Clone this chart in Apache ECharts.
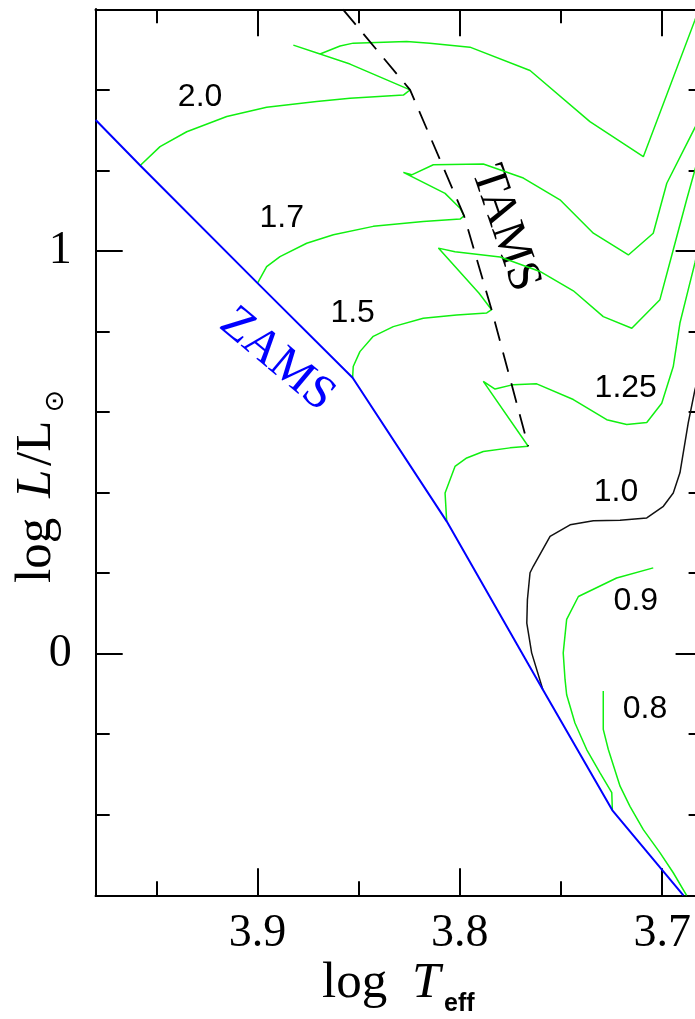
<!DOCTYPE html>
<html>
<head>
<meta charset="utf-8">
<script src="https://cdn.jsdelivr.net/npm/echarts@6/dist/echarts.min.js"></script>
<style>
  html, body { margin: 0; padding: 0; background: #fff; }
  #chart { width: 695px; height: 1019px; }
</style>
</head>
<body>
<div id="chart"></div>
<script>
// Zero-age main sequence (log Teff, log L/Lsun)
const zams = [[3.980, 1.325], [3.958, 1.212], [3.900, 0.920], [3.853, 0.685], [3.8065, 0.3285],
              [3.759, -0.089], [3.7246, -0.389], [3.6895, -0.600]];
// Terminal-age main sequence
const tams = [[3.8578, 1.600], [3.8246, 1.400], [3.7979, 1.087], [3.7843, 0.854], [3.7662, 0.515]];

// Evolutionary tracks, labelled by mass in solar units
const track20 = [[3.958, 1.212], [3.9482, 1.259], [3.935, 1.296], [3.9152, 1.334], [3.8955, 1.357],
  [3.8708, 1.371], [3.8543, 1.379], [3.8279, 1.387], [3.8246, 1.400], [3.8543, 1.464], [3.8823, 1.511],
  [3.8691, 1.489], [3.8592, 1.509], [3.8527, 1.516], [3.8263, 1.520], [3.8148, 1.516], [3.795, 1.506],
  [3.7653, 1.448], [3.7357, 1.321], [3.7093, 1.234], [3.6838, 1.573], [3.6803, 1.620]];
const track17 = [[3.900, 0.920], [3.8955, 0.961], [3.8889, 0.986], [3.8757, 1.019], [3.8625, 1.040],
  [3.8428, 1.061], [3.8181, 1.073], [3.7999, 1.079], [3.7979, 1.087], [3.7999, 1.106], [3.8073, 1.143],
  [3.8279, 1.195], [3.8238, 1.189], [3.8131, 1.214], [3.7884, 1.216], [3.7686, 1.181], [3.7505, 1.127],
  [3.734, 1.044], [3.7167, 0.990], [3.7044, 1.044], [3.6977, 1.168], [3.6838, 1.306], [3.678, 1.363]];
const track15 = [[3.853, 0.685], [3.8527, 0.713], [3.8494, 0.750], [3.8428, 0.788], [3.8329, 0.812],
  [3.8181, 0.833], [3.8016, 0.841], [3.7867, 0.846], [3.7843, 0.854], [3.7905, 0.895], [3.8106, 1.007],
  [3.8024, 0.998], [3.7801, 0.985], [3.7604, 0.949], [3.7439, 0.901], [3.7291, 0.837], [3.715, 0.808],
  [3.7011, 0.879], [3.6945, 1.003], [3.6879, 1.127], [3.6838, 1.201], [3.678, 1.308]];
const track125 = [[3.8065, 0.3285], [3.8073, 0.399], [3.8024, 0.465], [3.7966, 0.486], [3.7884, 0.502],
  [3.7752, 0.511], [3.7662, 0.515], [3.7884, 0.676], [3.7826, 0.657], [3.7736, 0.668], [3.762, 0.670],
  [3.7439, 0.631], [3.7274, 0.581], [3.7175, 0.569], [3.7076, 0.574], [3.7002, 0.622], [3.6945, 0.713],
  [3.6912, 0.821], [3.6871, 0.904], [3.6838, 0.970], [3.678, 1.100]];
const track10 = [[3.759, -0.089], [3.7645, 0.002], [3.7669, 0.076], [3.7666, 0.134], [3.7653, 0.201],
  [3.7637, 0.217], [3.7554, 0.291], [3.7455, 0.320], [3.734, 0.330], [3.7208, 0.331], [3.7076, 0.337],
  [3.6994, 0.366], [3.6945, 0.399], [3.6912, 0.449], [3.6871, 0.573], [3.6838, 0.655], [3.678, 0.760]];
const track09 = [[3.7246, -0.389], [3.7249, -0.345], [3.7307, -0.296], [3.7373, -0.238], [3.7431, -0.172],
  [3.7472, -0.102], [3.748, -0.064], [3.7489, 0.002], [3.7472, 0.085], [3.7414, 0.142], [3.7225, 0.188],
  [3.7044, 0.213]];
const track08 = [[3.6879, -0.600], [3.6945, -0.544], [3.7011, -0.494], [3.7093, -0.437], [3.7159, -0.379],
  [3.7208, -0.329], [3.7266, -0.238], [3.7291, -0.188], [3.7291, -0.093]];

// Mass labels placed beside each track
const massLabels = [[3.9284, 1.382, '2.0'], [3.888, 1.082, '1.7'], [3.853, 0.846, '1.5'],
  [3.718, 0.660, '1.25'], [3.7228, 0.402, '1.0'], [3.713, 0.130, '0.9'], [3.7085, -0.139, '0.8']];
const zamsLabel = [3.8904, 0.730, 'ZAMS'];
const tamsLabel = [3.7777, 1.056, 'TAMS'];

// Axis ranges and ticks
const xRange = [3.68, 3.98];
const yRange = [-0.6, 1.6];
const xMajorTicks = [3.7, 3.8, 3.9];
const xMinorTicks = [3.75, 3.85, 3.95];
const yMajorTicks = [0, 1];
const yMinorTicks = [-0.4, -0.2, 0.2, 0.4, 0.6, 0.8, 1.2, 1.4];

const GREEN = '#10f010';
const SERIF = '"Liberation Serif", "Times New Roman", serif';
const SANS = '"Liberation Sans", Arial, sans-serif';

function xAxisDef(position, ticks, len, withLabels) {
  return {
    type: 'value', position: position, inverse: true, min: xRange[0], max: xRange[1],
    axisLine: { show: true, onZero: false, lineStyle: { color: '#000', width: 2 } },
    axisTick: { show: true, inside: true, length: len, customValues: ticks,
                lineStyle: { color: '#000', width: 2 } },
    axisLabel: { show: withLabels, customValues: ticks, margin: 16,
                 formatter: v => v.toFixed(1),
                 fontFamily: SERIF, fontSize: 46, color: '#000' },
    splitLine: { show: false }
  };
}
function yAxisDef(position, ticks, len, withLabels) {
  return {
    type: 'value', position: position, min: yRange[0], max: yRange[1],
    axisLine: { show: true, onZero: false, lineStyle: { color: '#000', width: 2 } },
    axisTick: { show: true, inside: true, length: len, customValues: ticks,
                lineStyle: { color: '#000', width: 2 } },
    axisLabel: { show: withLabels, customValues: ticks, margin: 24,
                 formatter: v => String(v),
                 fontFamily: SERIF, fontSize: 46, color: '#000' },
    splitLine: { show: false }
  };
}
function track(name, data, color, width) {
  return { name: name, type: 'line', data: data, showSymbol: false, symbol: 'none',
           clip: true, silent: true, lineStyle: { color: color, width: width } };
}
function textLabel(name, item, rotate, font, size, color) {
  return {
    name: name, type: 'scatter', symbolSize: 0, silent: true,
    itemStyle: { opacity: 1 },
    data: item.map(d => ({ value: [d[0], d[1], d[2]] })),
    label: { show: true, position: 'inside', rotate: rotate, formatter: p => p.value[2],
             fontFamily: font, fontSize: size, color: color, opacity: 1 }
  };
}
// Axis titles are built from plain text pieces
function titlePiece(text, x, y, opts) {
  return {
    type: 'text', x: x, y: y, rotation: opts.rotation || 0, silent: true,
    style: {
      text: text, align: opts.align || 'left', verticalAlign: 'middle', fill: '#000',
      fontFamily: opts.family || SERIF, fontSize: opts.size || 51,
      fontStyle: opts.italic ? 'italic' : 'normal', fontWeight: opts.bold ? 'bold' : 'normal'
    }
  };
}

const chart = echarts.init(document.getElementById('chart'), null, { renderer: 'canvas' });
chart.setOption({
  animation: false,
  backgroundColor: '#fff',
  grid: { left: 95.7, top: 9.3, right: -7.6, bottom: 123.7, containLabel: false, outerBoundsMode: 'none' },
  xAxis: [
    xAxisDef('bottom', xMajorTicks, 27, true),
    xAxisDef('bottom', xMinorTicks, 14, false),
    xAxisDef('top', xMajorTicks, 27, false),
    xAxisDef('top', xMinorTicks, 14, false)
  ],
  yAxis: [
    yAxisDef('left', yMajorTicks, 27, true),
    yAxisDef('left', yMinorTicks, 14, false),
    yAxisDef('right', yMajorTicks, 27, false),
    yAxisDef('right', yMinorTicks, 14, false)
  ],
  series: [
    track('2.0', track20, GREEN, 1.5),
    track('1.7', track17, GREEN, 1.5),
    track('1.5', track15, GREEN, 1.5),
    track('1.25', track125, GREEN, 1.5),
    track('1.0', track10, '#111', 1.5),
    track('0.9', track09, GREEN, 1.5),
    track('0.8', track08, GREEN, 1.5),
    track('ZAMS', zams, '#0000ff', 2),
    {
      name: 'TAMS', type: 'line', data: tams, showSymbol: false, symbol: 'none', silent: true,
      lineStyle: { color: '#000', width: 1.8, type: [20, 12] }
    },
    textLabel('mass labels', massLabels, 0, SANS, 32, '#000'),
    textLabel('zams label', [zamsLabel], -40, SERIF, 48, '#0000ff'),
    textLabel('tams label', [tamsLabel], -71, SERIF, 48, '#000')
  ],
  graphic: [
    // x-axis title: log T_eff
    titlePiece('log', 322, 984, {}),
    titlePiece('T', 412, 984, { italic: true }),
    titlePiece('eff', 444, 1004, { family: SANS, size: 25, bold: true }),
    // y-axis title: log L/L⊙ (reads upward)
    titlePiece('log', 37, 583, { rotation: Math.PI / 2 }),
    titlePiece('L', 37, 498, { rotation: Math.PI / 2, italic: true }),
    titlePiece('/L', 37, 466, { rotation: Math.PI / 2 }),
    titlePiece('⊙', 56, 401, { rotation: Math.PI / 2, align: 'center', family: '"DejaVu Sans", sans-serif', size: 27 })
  ]
});
</script>
</body>
</html>
